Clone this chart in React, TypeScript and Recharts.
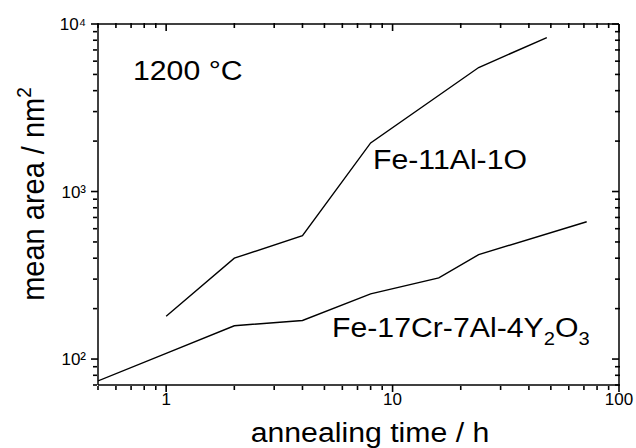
import { LineChart, Line, XAxis, YAxis } from 'recharts'

// Fe-11Al-1O
const timeAl = [1, 2, 4, 8, 24, 48]
const areaAl = [180, 400, 545, 1950, 5500, 8300]

// Fe-17Cr-7Al-4Y2O3
const timeCr = [0.5, 1, 2, 4, 8, 16, 24, 72]
const areaCr = [74, 108, 158, 170, 245, 305, 420, 660]

const xMajor = [1, 10, 100]
const xMinor = [0.5, 0.6, 0.7, 0.8, 0.9, 2, 3, 4, 5, 6, 7, 8, 9, 20, 30, 40, 50, 60, 70, 80, 90]
const yMajor = [100, 1000, 10000]
const yMinor = [70, 80, 90, 200, 300, 400, 500, 600, 700, 800, 900, 2000, 3000, 4000, 5000, 6000, 7000, 8000, 9000]
const yTickText: Record<number, string> = { 100: '10²', 1000: '10³', 10000: '10⁴' }

const W = 636
const H = 448
const FONT = '"Liberation Sans", Arial, sans-serif'
const SX = 1.12 // the original text is a bit wider than Arial

const alData = timeAl.map((t, i) => ({ t, v: areaAl[i] }))
const crData = timeCr.map((t, i) => ({ t, v: areaCr[i] }))

const lineStroke = { stroke: '#000', strokeWidth: 1.5 }
const tickStroke = { stroke: '#000', strokeWidth: 1.6 }
const tickFont = { fill: '#000', fontSize: 17, fontFamily: FONT }
const blank = () => ''

function Overlay() {
  const t = (x: number, y: number) => `translate(${x},${y}) scale(${SX},1)`
  return (
    <svg width={W} height={H} style={{ position: 'absolute', left: 0, top: 0, pointerEvents: 'none' }}
      fontFamily={FONT} fill="#000">
      <text transform={t(133, 80)} fontSize={27}>1200 °C</text>
      <text transform={t(373, 169)} fontSize={27}>Fe-11Al-1O</text>
      <text transform={t(332, 337)} fontSize={27}>
        Fe-17Cr-7Al-4Y<tspan dy={8} fontSize={18}>2</tspan><tspan dy={-8}>O</tspan><tspan dy={8} fontSize={18}>3</tspan>
      </text>
      <text transform={t(370, 442)} fontSize={27} textAnchor="middle">annealing time / h</text>
      <text transform="translate(44,194) scale(1.08,1) rotate(-90)" fontSize={29} textAnchor="middle">
        mean area / nm<tspan dy={-12} fontSize={19}>2</tspan>
      </text>
    </svg>
  )
}

export default function App() {
  // default tick renderer keeps the tick lines; labels come from tickFormatter
  const xBase = {
    type: 'number' as const, dataKey: 't', scale: 'log' as const, domain: [0.5, 100], allowDataOverflow: true,
    interval: 0, height: 1, tickLine: tickStroke, tick: tickFont,
  }
  const yBase = {
    type: 'number' as const, dataKey: 'v', scale: 'log' as const, domain: [70, 10000], allowDataOverflow: true,
    interval: 0, width: 1, tickLine: tickStroke, tick: tickFont,
  }
  return (
    <div style={{ position: 'absolute', left: 0, top: 0, width: W, height: H, background: '#fff' }}>
      <LineChart width={W} height={H} margin={{ top: 22, right: 15, bottom: 61, left: 96 }}>
        {/* bottom: major with labels, then minor ticks */}
        <XAxis xAxisId="b" {...xBase} ticks={xMajor} tickSize={7} tickMargin={1} axisLine={lineStroke} />
        <XAxis xAxisId="bm" {...xBase} ticks={xMinor} tickSize={4} axisLine={false} tickFormatter={blank} />
        {/* top: negative size points the ticks inward */}
        <XAxis xAxisId="t" orientation="top" {...xBase} ticks={xMajor} tickSize={-7} axisLine={lineStroke}
          tickFormatter={blank} />
        <XAxis xAxisId="tm" orientation="top" {...xBase} ticks={xMinor} tickSize={-5} axisLine={false}
          tickFormatter={blank} />
        {/* left */}
        <YAxis yAxisId="l" {...yBase} ticks={yMajor} tickSize={7} tickMargin={5} axisLine={lineStroke}
          tickFormatter={(v: number) => yTickText[v] ?? ''} />
        <YAxis yAxisId="lm" {...yBase} ticks={yMinor} tickSize={4} axisLine={false} tickFormatter={blank} />
        {/* right: inward ticks */}
        <YAxis yAxisId="r" orientation="right" {...yBase} ticks={yMajor} tickSize={-7} axisLine={lineStroke}
          tickFormatter={blank} />
        <YAxis yAxisId="rm" orientation="right" {...yBase} ticks={yMinor} tickSize={-5} axisLine={false}
          tickFormatter={blank} />
        <Line xAxisId="b" yAxisId="l" data={alData} dataKey="v" type="linear" stroke="#000" strokeWidth={1.4}
          dot={false} isAnimationActive={false} />
        <Line xAxisId="b" yAxisId="l" data={crData} dataKey="v" type="linear" stroke="#000" strokeWidth={1.4}
          dot={false} isAnimationActive={false} />
      </LineChart>
      <Overlay />
    </div>
  )
}
